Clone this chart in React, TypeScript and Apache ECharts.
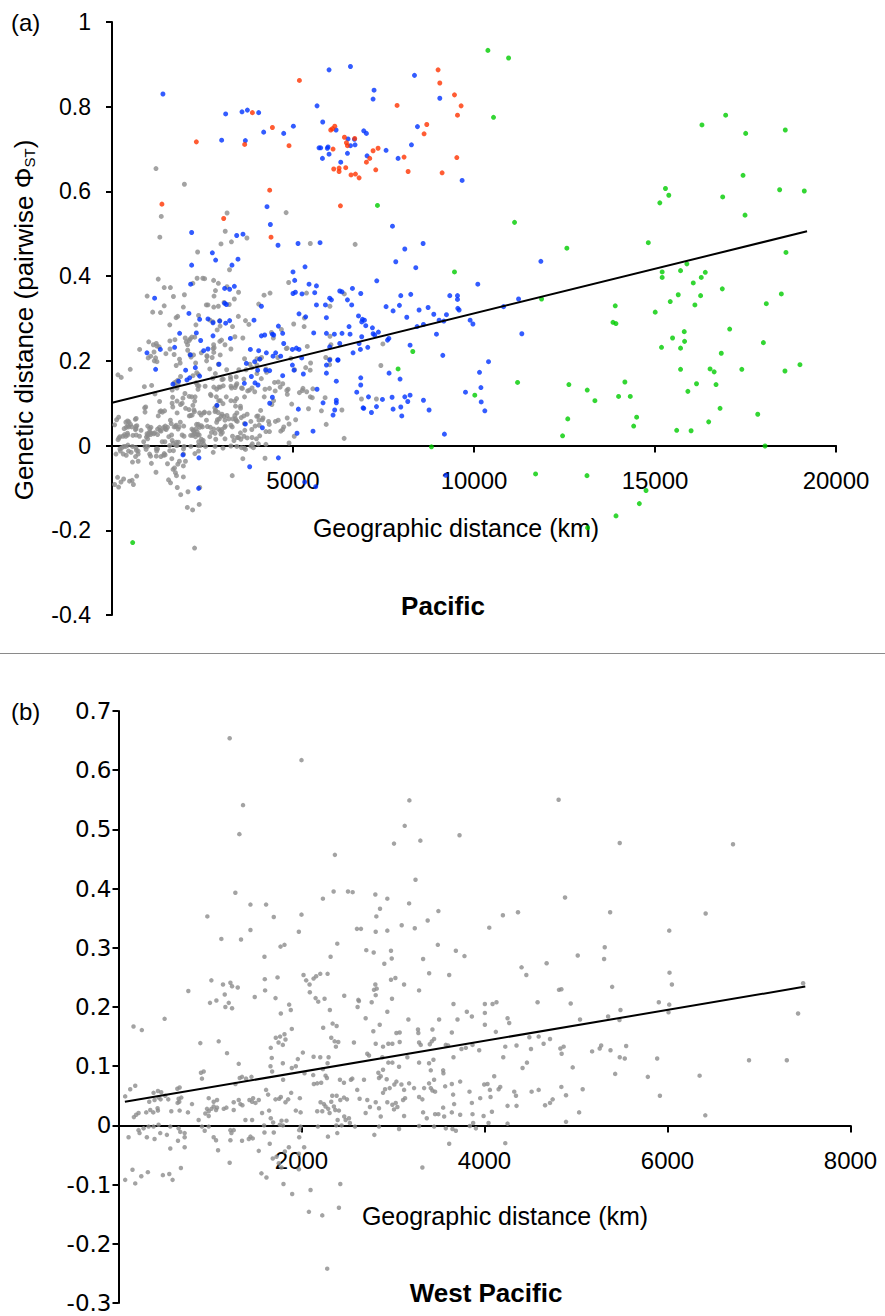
import React, { useEffect, useRef } from "react";
import * as echarts from "echarts";

// ---------- DATA (km, pairwise PhiST) ----------
// West Pacific pairs (grey) – shown in both panels
const greyPts: number[][] = [
  [1215,0.654],[1361,0.541],[1321,0.492],[1277,0.393],[1442,0.373],[1613,0.373],[971,0.353],[1697,0.352],[1442,0.330],[1124,0.315],[1339,0.314],[1595,0.285],
  [763,0.227],[1015,0.245],[1142,0.238],[1161,0.221],[1223,0.241],[1241,0.235],[1303,0.233],[1489,0.217],[1599,0.247],[1602,0.228],[1738,0.250],[1716,0.215],
  [1000,0.207],[1070,0.211],[1168,0.200],[1205,0.207],[1241,0.198],[504,0.180],[164,0.167],[255,0.161],[894,0.139],[1095,0.142],[1186,0.122],
  [1774,0.189],[1865,0.204],[1883,0.195],[1894,0.163],[2183,0.209],[2310,0.195],[2237,0.165],[2340,0.172],[2384,0.168],[2325,0.148],[2362,0.142],[2402,0.141],[2376,0.133],
  [1766,0.150],[1719,0.148],[1749,0.140],[1814,0.154],[1825,0.145],[1796,0.136],
  [1664,0.131],[1675,0.114],[1661,0.100],[1679,0.091],[1796,0.105],[1894,0.097],[1938,0.100],[1960,0.112],[2015,0.123],[2132,0.116],[2205,0.115],[2296,0.115],[2285,0.105],[2234,0.095],[2263,0.084],[2278,0.080],[2128,0.085],[2033,0.088],[2135,0.070],[2172,0.071],[2215,0.072],[2420,0.077],[2464,0.072],
  [2336,0.050],[2384,0.050],[2424,0.043],[2464,0.047],[2497,0.044],[2208,0.039],[2245,0.036],[2263,0.032],[2292,0.028],[2227,0.024],[2172,0.024],[2307,0.021],[2369,0.026],[2409,0.025],[2467,0.015],[2395,0.009],[2482,0.009],[2519,0.012],[2325,0.040],[2354,0.032],
  [1799,0.077],[1613,0.060],[1635,0.052],[1716,0.044],[1756,0.045],[1774,0.048],[1825,0.039],[1854,0.044],[1887,0.055],[1982,0.046],[1938,0.025],[1990,0.022],
  [1646,0.025],[1664,0.012],[1690,0.005],[1763,0.001],[1782,0.008],[1836,0.008],
  [1591,0.000],[1595,-0.012],[1697,-0.012],[1796,0.000],[1653,-0.031],[1975,-0.008],[1990,-0.002],[1975,-0.020],[2029,-0.037],[1971,-0.048],
  [2179,-0.002],[2289,-0.019],[2391,-0.013],[2380,0.000],[2438,0.000],[2529,0.004],[1818,-0.044],[1862,-0.037],[1533,-0.043],[1752,-0.064],[1781,-0.071],[1562,-0.081],[1617,-0.088],
  [73,0.049],[128,0.061],[183,0.067],[383,0.055],[431,0.058],[467,0.056],[438,0.047],[511,0.050],[336,0.040],[394,0.043],[460,0.044],[544,0.044],[643,0.062],[668,0.064],[657,0.045],[686,0.047],[664,0.040],[646,0.038],
  [168,0.014],[193,0.018],[219,0.021],[303,0.022],[347,0.026],[380,0.022],[427,0.029],[431,0.025],[577,0.024],[668,0.025],[759,0.022],[876,0.009],[949,0.020],[986,0.024],[1066,0.026],[1040,0.032],[1077,0.030],[986,0.016],
  [803,0.036],[967,0.028],[1015,0.028],[1150,0.028],[1179,0.030],[1259,0.026],[1332,0.036],[1259,0.039],[1314,0.043],[1354,0.034],[1431,0.043],[1460,0.040],[1497,0.038],
  [901,0.089],[931,0.091],[912,0.079],[1278,0.070],[1325,0.080],[1350,0.082],[1394,0.079],[1453,0.082],[1314,0.104],
  [1533,0.043],[1569,0.021],[1460,0.009],[1387,0.009],[1471,0.046],[986,0.046],[1040,0.040],[1077,0.043],
  [110,-0.020],[219,-0.008],[274,-0.005],[329,-0.002],[383,-0.002],[456,-0.013],[529,-0.016],[566,-0.002],[657,-0.005],[675,-0.011],[723,-0.013],[723,-0.020],[438,0.001],[230,-0.013],
  [310,-0.020],[394,-0.023],[566,-0.039],[650,-0.026],[723,-0.037],
  [912,-0.002],[942,-0.009],[986,-0.002],[1040,-0.020],[1066,-0.025],[1088,-0.042],[1223,-0.025],[1234,-0.013],[1223,-0.008],[1259,-0.008],[1350,-0.026],[1424,-0.023],[1442,-0.019],[1467,-0.022],
  [73,-0.092],[153,-0.075],[183,-0.098],[249,-0.086],[321,-0.079],[485,-0.084],[555,-0.082],[591,-0.092],[682,-0.072],[1215,-0.063],[1803,-0.099],[1898,-0.116],[2081,-0.146],[1686,-0.056],[1727,-0.053],[1971,-0.074],
  [2099,-0.109],[2424,-0.099],[2227,-0.152],[2409,-0.139],[2281,-0.242],
  [2000,0.617],[3179,0.549],[3128,0.506],[3011,0.476],[3299,0.481],[3727,0.490],[4810,0.550],[2365,0.457],[3246,0.415],[2351,0.395],[2508,0.395],[2559,0.394],[2234,0.383],[2807,0.390],[2938,0.383],[2858,0.366],[2818,0.353],[2811,0.327],[2938,0.329],[3176,0.375],[3496,0.362],[3379,0.346],[3095,0.338],[3238,0.333],[2606,0.332],[2650,0.332],[2000,0.356],[1971,0.327],[2391,0.307],[1771,0.302],[1814,0.305],[2318,0.285],[2708,0.296],[2789,0.292],[2978,0.295],[2986,0.282],[2905,0.273],[3490,0.305],[3329,0.281],[3687,0.295],[3781,0.286],[3395,0.257],[3614,0.254],[4052,0.334],[4201,0.355],[4366,0.360],[4405,0.267],[4457,0.254],[4679,0.274],
  [2022,0.254],[2051,0.245],[2088,0.238],[2132,0.248],[2160,0.252],[2205,0.256],[2285,0.256],[2091,0.225],[2154,0.215],[2252,0.214],[2467,0.219],
  [2807,0.238],[2822,0.231],[2811,0.220],[2978,0.246],[3026,0.249],[2989,0.214],[3121,0.238],[3285,0.228],[2621,0.212],[2792,0.229],[4814,0.229],
  [2613,0.200],[2628,0.210],[2767,0.208],[2701,0.181],[2855,0.170],[2938,0.192],[3168,0.179],[3504,0.179],[3661,0.205],[3705,0.179],[3807,0.192],[3862,0.184],[4004,0.205],[4088,0.205],[4131,0.208],[4004,0.190],[4004,0.170],[4252,0.181],[4270,0.173],[4580,0.208],[4124,0.158],
  [2573,0.140],[2785,0.159],[2949,0.138],[2993,0.138],[3037,0.156],[3073,0.157],[3073,0.141],[2811,0.138],[2891,0.133],[3273,0.162],[3277,0.156],[3431,0.162],[3424,0.142],[3449,0.146],[3402,0.137],[3285,0.140],[3303,0.136],[3643,0.157],[3577,0.136],[3602,0.135],[3748,0.129],[3796,0.131],[3942,0.127],[3869,0.136],[4205,0.115],[4227,0.133],[4350,0.135],[4490,0.149],[4592,0.150],[4716,0.146],[4508,0.129],[4646,0.138],
  [2738,0.118],[2719,0.121],[2993,0.106],[2883,0.115],[2949,0.106],[3066,0.099],[3157,0.115],[3285,0.106],[3394,0.105],[3442,0.111],[3661,0.115],[4464,0.106],[4416,0.097],
  [2555,0.079],[2540,0.077],[2683,0.077],[2840,0.089],[2866,0.083],[2931,0.078],[2891,0.094],[2847,0.080],
  [2913,0.061],[2891,0.055],[2964,0.063],[3015,0.069],[3037,0.074],[3092,0.069],[3121,0.060],[3132,0.046],[3176,0.071],[3230,0.063],[3285,0.048],[3321,0.044],[3340,0.063],[3394,0.071],[3413,0.063],[3431,0.059],[3460,0.057],[3449,0.077],[3413,0.093],[3548,0.093],[3551,0.088],[3570,0.066],[3643,0.070],[3657,0.052],[3734,0.074],
  [3836,0.057],[3862,0.038],[3953,0.046],[3997,0.069],[4033,0.070],[4059,0.060],[4066,0.048],[4106,0.083],[4154,0.061],[4172,0.065],[4325,0.057],[4344,0.050],[4252,0.033],[4350,0.033],[4515,0.057],[4592,0.060],[4662,0.034],[4716,0.038],[4745,0.044],
  [2609,0.060],[2635,0.045],[2719,0.043],[2748,0.031],[2701,0.021],[2847,0.029],[2938,0.039],[2993,0.035],[3030,0.038],[3048,0.031],[3110,0.043],[3011,0.027],[3121,0.016],[2866,0.015],[2811,0.039],
  [3329,0.022],[3369,0.012],[3460,0.019],[3496,0.019],[3548,0.030],[3559,0.015],[3643,0.022],[3668,0.036],[3734,0.018],[3869,0.019],[3990,0.016],[4081,0.023],[4252,0.003],
  [2584,-0.002],[2796,-0.016],[2847,-0.002],[3066,-0.006],[3285,-0.001],[3449,-0.002],[3577,-0.005],[3650,-0.006],[3687,-0.009],[3840,-0.001],[3876,0.004],[3906,-0.005],[4044,0.004],[3614,-0.031],[4227,-0.030],[3321,-0.071],
  [5478,0.477],[6716,0.475],[4880,0.385],[5373,0.360],[6417,0.358],[6019,0.329],[5019,0.287],[5314,0.301],[5307,0.281],[6022,0.258],[6048,0.238],[4840,0.230],[5395,0.234],[4942,0.206],[5905,0.208],[6019,0.204],[6011,0.191],[5486,0.195],[5475,0.178],[5351,0.184],[5044,0.179],[7482,0.240],[7427,0.189],
  [4829,0.130],[4843,0.121],[4865,0.133],[5176,0.125],[5259,0.130],[5275,0.135],[5377,0.127],[5548,0.134],[5478,0.115],[5533,0.113],[5887,0.113],[6891,0.110],[7304,0.110],[4964,0.098],[5428,0.087],[5785,0.082],[6351,0.084],
  [4840,0.065],[4891,0.051],[5073,0.061],[5034,0.022],[5917,0.050],[4891,0.006],[6413,0.017]
];

const bluePts: number[][] = [
  [1407,0.830],[3140,0.783],[3591,0.788],[3740,0.792],[4052,0.786],[3029,0.721],[3684,0.720],[2200,0.503],[3444,0.496],[3618,0.499],[2772,0.455],[2863,0.438],[3480,0.440],[3314,0.426],[2200,0.426],[2172,0.381],[3112,0.371],[3250,0.369],[3380,0.376],[1177,0.348],[3112,0.336],[3159,0.333],[2125,0.312],[2421,0.298],[2651,0.299],[2790,0.290],[2974,0.294],[3140,0.289],[3250,0.295],[3922,0.296],
  [5996,0.887],[6587,0.895],[8356,0.874],[7239,0.839],[7212,0.818],[9055,0.820],[5664,0.802],[5821,0.764],[5011,0.754],[4743,0.737],[4190,0.740],[6189,0.745],[6954,0.743],[7028,0.737],[6520,0.724],[6697,0.723],[5719,0.703],[5766,0.703],[5968,0.705],[5949,0.702],[5996,0.688],[5813,0.678],[6504,0.690],[6587,0.708],[6714,0.710],[6319,0.669],[7046,0.684],[7571,0.697],[7903,0.678],[8272,0.710],[8438,0.753],[9672,0.626],
  [4282,0.564],[4375,0.522],[4586,0.473],[5139,0.477],[5747,0.479],[7748,0.518],[5332,0.422],[5000,0.410],[5047,0.390],[5443,0.381],[5647,0.377],[5000,0.359],[5066,0.362],[5249,0.358],[5600,0.361],
  [5166,0.311],[5350,0.304],[5922,0.302],[5647,0.332],[5896,0.332],
  [966,0.219],[1205,0.180],[1335,0.227],[1730,0.232],[1868,0.265],[2034,0.178],[2164,0.214],[2145,0.160],[2070,0.155],[2302,0.184],[2330,0.266],[2449,0.248],[1683,0.145],[1841,0.152],[2421,0.164],[2532,0.224],[2651,0.228],[2790,0.259],[2956,0.192],[3270,0.253],[2900,0.095],[3684,0.051],[3803,-0.050],
  [4126,0.259],[4218,0.261],[4467,0.261],[4596,0.282],[4715,0.265],[4430,0.263],[3822,0.227],[4052,0.224],[4264,0.219],[4521,0.219],[4743,0.241],[4660,0.211],[4448,0.211],[3712,0.194],[3941,0.198],[4080,0.204],[4246,0.178],[4356,0.177],[4024,0.178],[3656,0.147],[3950,0.148],[4033,0.143],[3850,0.163],[4356,0.100],[4430,0.114],[4715,0.165],
  [4983,0.227],[5166,0.227],[5241,0.207],[4983,0.190],[5028,0.178],[5286,0.169],[5094,0.230],[5148,0.086],[5111,0.029],[5553,0.034],[5572,0.266],[5923,0.265],[5923,0.190],[5923,0.171],[5664,0.133],[5830,0.101],
  [1960,-0.022],[2401,-0.029],[2393,-0.101],[4596,-0.029],[5323,-0.086],[5627,-0.097],[4154,0.042],[4126,0.329],
  [8088,0.464],[8594,0.477],[7839,0.434],[8392,0.420],[11847,0.435],[7314,0.389],[10105,0.381],
  [6291,0.365],[6354,0.363],[6504,0.344],[6642,0.371],[6871,0.359],[6622,0.332],[6014,0.348],[6061,0.344],
  [7977,0.354],[8253,0.357],[7571,0.328],[7765,0.318],[7940,0.331],[8483,0.320],[8732,0.326],[9331,0.354],[9544,0.354],[9544,0.345],[9552,0.324],[9589,0.320],[11231,0.346],[10816,0.328],
  [6809,0.306],[6919,0.298],[6974,0.296],[6899,0.292],[7010,0.283],[7194,0.278],[7213,0.264],[7360,0.268],[7258,0.261],[6548,0.281],[6576,0.263],[6354,0.265],[6143,0.263],[6014,0.233],[6291,0.241],[6898,0.257],[6825,0.241],[6862,0.227],[7065,0.232],[6659,0.219],[6245,0.202],
  [7648,0.253],[7611,0.249],[8143,0.303],[8428,0.281],[8604,0.286],[8889,0.310],[9036,0.296],[9166,0.294],[9239,0.309],[8963,0.263],[9893,0.296],[9970,0.287],[8234,0.237],[9138,0.213],[10401,0.198],
  [7654,0.171],[6871,0.160],[6871,0.143],[6761,0.126],[7957,0.157],[7085,0.115],[6955,0.088],[6935,0.089],[7167,0.078],[7306,0.092],[7471,0.109],[7737,0.114],[7765,0.086],[7977,0.091],[8005,0.070],[8088,0.115],[8170,0.104],[8234,0.119],[8604,0.107],[8759,0.084],
  [6014,0.202],[6235,0.202],[6197,0.152],[6197,0.107],[6197,0.101],[6152,0.084],[6106,0.072],
  [9765,0.126],[10152,0.173],[10191,0.137],[10199,0.103],[10299,0.082],[9183,0.027],[11321,0.264],[9220,-0.070]
];

const redPts: number[][] = [
  [2330,0.717],[3665,0.711],[3878,0.786],[1379,0.570],[3085,0.536],[5177,0.862],[4431,0.751],[4890,0.708],[9008,0.887],[9055,0.856],[9461,0.828],[9644,0.802],[9544,0.780],[7875,0.803],[8695,0.758],[8621,0.736],
  [6042,0.745],[6089,0.748],[6153,0.754],[6421,0.728],[6476,0.715],[6705,0.725],[6504,0.708],[6106,0.700],[7212,0.696],[7350,0.702],[7120,0.678],[7028,0.669],[7286,0.651],[6125,0.653],[6273,0.655],[6273,0.647],[6457,0.656],[6603,0.639],[6725,0.641],[6826,0.632],[8068,0.681],[8180,0.647],[9525,0.680],[9119,0.644],[4356,0.603],[4393,0.492],[6310,0.566]
];

const greenPts: number[][] = [
  [7333,0.567],[9461,0.410],[8309,0.222],[7903,0.181],[10022,0.119],[8825,-0.003],[571,-0.229],
  [10384,0.933],[10955,0.915],[10539,0.775],[11120,0.527],[12565,0.466],[16297,0.757],[16952,0.780],[17505,0.737],[18599,0.745],[17432,0.638],[15289,0.607],[15381,0.591],[15133,0.573],[16870,0.587],[18443,0.604],[19124,0.601],[17487,0.544],[14815,0.479],[18618,0.456],[15880,0.429],[15198,0.410],[15198,0.397],[15706,0.413],[16057,0.384],[16278,0.397],[16389,0.409],[15642,0.356],[15421,0.340],[16102,0.332],[16260,0.354],[16859,0.370],[18075,0.335],[18490,0.358],[11866,0.346],[13902,0.330],[15006,0.315],[13839,0.291],[13921,0.288],[15485,0.254],[15808,0.269],[15817,0.246],[15706,0.230],[15180,0.232],[17063,0.275],[17994,0.243],[16831,0.218],[15706,0.180],[16521,0.181],[16634,0.174],[17398,0.180],[18590,0.176],[19004,0.191],[16686,0.144],[16147,0.146],[15908,0.128],[16797,0.088],[17838,0.074],[16483,0.056],[15599,0.036],[15997,0.035],[18040,-0.001],
  [11203,0.149],[12621,0.144],[13128,0.131],[13340,0.106],[14168,0.150],[13994,0.116],[14317,0.116],[14493,0.067],[14411,0.046],[12590,0.063],[12447,0.023],[11701,-0.067],[13121,-0.071],[14752,-0.106],[14567,-0.137],[13922,-0.166],[13138,-0.194]
];

// regression lines (endpoints)
const fitAX = [0, 19200];
const fitAY = [0.101, 0.506];
const fitBX = [70, 7506];
const fitBY = [0.040, 0.2345];

// axes
const xTicksA = [0, 5000, 10000, 15000, 20000];
const yTicksA = [-0.4, -0.2, 0, 0.2, 0.4, 0.6, 0.8, 1];
const xTicksB = [0, 2000, 4000, 6000, 8000];
const yTicksB = [-0.3, -0.2, -0.1, 0, 0.1, 0.2, 0.3, 0.4, 0.5, 0.6, 0.7];

const FONT = "Liberation Sans, Arial, Helvetica, sans-serif";

function fmtY(v: number) {
  const r = Math.round(v * 10) / 10;
  return String(r);
}

export default function App() {
  const ref = useRef<HTMLDivElement>(null);
  useEffect(() => {
    if (!ref.current) return;
    const chart = echarts.init(ref.current, undefined, { renderer: "svg" });
    const axisLineStyle = { color: "#000", width: 2 };

    // hidden x axes on the scatter grids (scale only)
    const xHidden = (ticks: number[], gi: number) => ({
      type: "value",
      gridIndex: gi,
      min: ticks[0],
      max: ticks[ticks.length - 1],
      interval: ticks[1] - ticks[0],
      show: false,
      splitLine: { show: false },
    });
    // visible x axes drawn on grids whose bottom edge sits at y = 0
    const xShown = (ticks: number[], gi: number) => ({
      type: "value",
      gridIndex: gi,
      min: ticks[0],
      max: ticks[ticks.length - 1],
      interval: ticks[1] - ticks[0],
      position: "bottom",
      axisLine: { show: true, onZero: false, lineStyle: axisLineStyle },
      axisTick: { show: true, length: 7, lineStyle: axisLineStyle },
      axisLabel: {
        margin: 23,
        fontSize: 24,
        color: "#000",
        fontFamily: FONT,
        formatter: (v: number) => (v === 0 ? "" : String(v)),
      },
      splitLine: { show: false },
    });
    const yAxisBase = (ticks: number[], interval: number, gi: number, margin: number, font: string, size: number) => ({
      type: "value",
      gridIndex: gi,
      min: ticks[0],
      max: ticks[ticks.length - 1],
      interval,
      axisLine: { show: true, onZero: false, lineStyle: axisLineStyle },
      axisTick: { show: true, length: 6, lineStyle: axisLineStyle },
      axisLabel: { margin, fontSize: size, color: "#000", fontFamily: font, formatter: fmtY },
      splitLine: { show: false },
    });
    const yHidden = (gi: number) => ({ type: "value", gridIndex: gi, min: 0, max: 1, show: false, splitLine: { show: false } });

    // panel geometry
    const gA = { left: 112, top: 22, width: 724, height: 593 };
    const gB = { left: 118.5, top: 711, width: 732, height: 592 };
    const zeroA = gA.top + gA.height * (yTicksA[yTicksA.length - 1] / (yTicksA[yTicksA.length - 1] - yTicksA[0]));
    const zeroB = gB.top + gB.height * (yTicksB[yTicksB.length - 1] / (yTicksB[yTicksB.length - 1] - yTicksB[0]));

    const option: any = {
      animation: false,
      backgroundColor: "#fff",
      grid: [
        gA,
        gB,
        { left: gA.left, top: gA.top, width: gA.width, height: zeroA - gA.top },
        { left: gB.left, top: gB.top, width: gB.width, height: zeroB - gB.top },
      ],
      xAxis: [xHidden(xTicksA, 0), xHidden(xTicksB, 1), xShown(xTicksA, 2), xShown(xTicksB, 3)],
      yAxis: [
        yAxisBase(yTicksA, 0.2, 0, 21, FONT, 23),
        yAxisBase(yTicksB, 0.1, 1, 7, "DejaVu Sans, sans-serif", 23),
        yHidden(2),
        yHidden(3),
      ],
      series: [
        { type: "scatter", xAxisIndex: 0, yAxisIndex: 0, data: greyPts, symbolSize: 5, itemStyle: { color: "#8c8c8c" }, silent: true },
        { type: "scatter", xAxisIndex: 0, yAxisIndex: 0, data: bluePts, symbolSize: 5, itemStyle: { color: "#0033ff" }, silent: true },
        { type: "scatter", xAxisIndex: 0, yAxisIndex: 0, data: redPts, symbolSize: 5, itemStyle: { color: "#ff3300" }, silent: true },
        { type: "scatter", xAxisIndex: 0, yAxisIndex: 0, data: greenPts, symbolSize: 5, itemStyle: { color: "#00cc00" }, silent: true },
        {
          type: "line", xAxisIndex: 0, yAxisIndex: 0, symbol: "none", silent: true, z: 5,
          data: fitAX.map((x, i) => [x, fitAY[i]]),
          lineStyle: { color: "#000", width: 2 },
        },
        { type: "scatter", xAxisIndex: 1, yAxisIndex: 1, data: greyPts, symbolSize: 4.5, itemStyle: { color: "#8c8c8c" }, silent: true },
        {
          type: "line", xAxisIndex: 1, yAxisIndex: 1, symbol: "none", silent: true, z: 5,
          data: fitBX.map((x, i) => [x, fitBY[i]]),
          lineStyle: { color: "#000", width: 2 },
        },
      ],
      graphic: [
        { type: "text", left: 11, top: 10, style: { text: "(a)", font: `24px ${FONT}`, fill: "#000" } },
        { type: "text", left: 11, top: 699, style: { text: "(b)", font: `24px ${FONT}`, fill: "#000" } },
        {
          type: "text",
          x: 24,
          y: 320,
          rotation: Math.PI / 2,
          style: {
            text: "{a|Genetic distance (pairwise Φ}{b|ST}{a|)}",
            rich: {
              a: { fontSize: 26, fontFamily: FONT, fill: "#000", lineHeight: 30, verticalAlign: "middle" },
              b: { fontSize: 15, fontFamily: FONT, fill: "#000", lineHeight: 30, verticalAlign: "bottom", padding: [0, 0, 2, 0] },
            },
            align: "center",
            verticalAlign: "middle",
          },
        },
        { type: "text", x: 456, y: 528, style: { text: "Geographic distance (km)", font: `25px ${FONT}`, fill: "#000", align: "center", verticalAlign: "middle" } },
        { type: "text", x: 443, y: 606, style: { text: "Pacific", font: `bold 26px ${FONT}`, fill: "#000", align: "center", verticalAlign: "middle" } },
        { type: "line", shape: { x1: 0, y1: 653.5, x2: 885, y2: 653.5 }, style: { stroke: "#8a8a8a", lineWidth: 1 } },
        { type: "text", x: 505, y: 1216, style: { text: "Geographic distance (km)", font: `25px ${FONT}`, fill: "#000", align: "center", verticalAlign: "middle" } },
        { type: "text", x: 486, y: 1293, style: { text: "West Pacific", font: `bold 26px ${FONT}`, fill: "#000", align: "center", verticalAlign: "middle" } },
      ],
    };
    chart.setOption(option);
    return () => chart.dispose();
  }, []);
  return (
    <div
      ref={ref}
      style={{ position: "absolute", left: 0, top: 0, width: 885, height: 1316, background: "#fff" }}
    />
  );
}
